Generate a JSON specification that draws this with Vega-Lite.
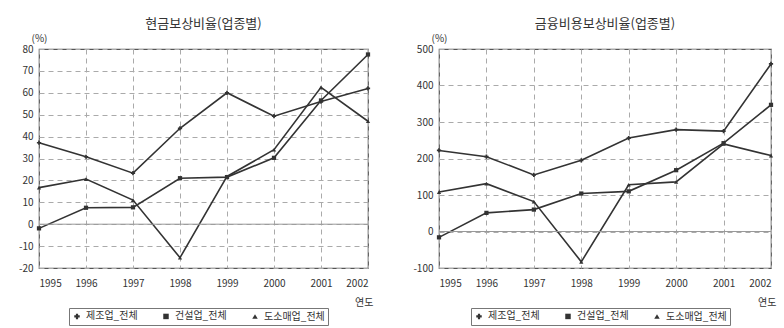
{
  "$schema": "https://vega.github.io/schema/vega-lite/v6.json",
  "background": "white",
  "padding": {"left": 4, "right": 0, "top": 17, "bottom": 0},
  "datasets": {
    "d": [
      {"chart": "cash", "series": "제조업_전체", "year": 1995, "value": 37.2},
      {"chart": "cash", "series": "제조업_전체", "year": 1996, "value": 30.8},
      {"chart": "cash", "series": "제조업_전체", "year": 1997, "value": 23.3},
      {"chart": "cash", "series": "제조업_전체", "year": 1998, "value": 43.8},
      {"chart": "cash", "series": "제조업_전체", "year": 1999, "value": 60},
      {"chart": "cash", "series": "제조업_전체", "year": 2000, "value": 49.3},
      {"chart": "cash", "series": "제조업_전체", "year": 2001, "value": 56},
      {"chart": "cash", "series": "제조업_전체", "year": 2002, "value": 62},
      {"chart": "cash", "series": "도소매업_전체", "year": 1995, "value": 16.7},
      {"chart": "cash", "series": "도소매업_전체", "year": 1996, "value": 20.6},
      {"chart": "cash", "series": "도소매업_전체", "year": 1997, "value": 11},
      {"chart": "cash", "series": "도소매업_전체", "year": 1998, "value": -15.3},
      {"chart": "cash", "series": "도소매업_전체", "year": 1999, "value": 21.8},
      {"chart": "cash", "series": "도소매업_전체", "year": 2000, "value": 34},
      {"chart": "cash", "series": "도소매업_전체", "year": 2001, "value": 62.5},
      {"chart": "cash", "series": "도소매업_전체", "year": 2002, "value": 47},
      {"chart": "cash", "series": "건설업_전체", "year": 1995, "value": -1.9},
      {"chart": "cash", "series": "건설업_전체", "year": 1996, "value": 7.5},
      {"chart": "cash", "series": "건설업_전체", "year": 1997, "value": 7.7},
      {"chart": "cash", "series": "건설업_전체", "year": 1998, "value": 21},
      {"chart": "cash", "series": "건설업_전체", "year": 1999, "value": 21.5},
      {"chart": "cash", "series": "건설업_전체", "year": 2000, "value": 30.3},
      {"chart": "cash", "series": "건설업_전체", "year": 2001, "value": 56.5},
      {"chart": "cash", "series": "건설업_전체", "year": 2002, "value": 77.5},
      {"chart": "fin", "series": "제조업_전체", "year": 1995, "value": 222},
      {"chart": "fin", "series": "제조업_전체", "year": 1996, "value": 205},
      {"chart": "fin", "series": "제조업_전체", "year": 1997, "value": 155},
      {"chart": "fin", "series": "제조업_전체", "year": 1998, "value": 195},
      {"chart": "fin", "series": "제조업_전체", "year": 1999, "value": 256},
      {"chart": "fin", "series": "제조업_전체", "year": 2000, "value": 279},
      {"chart": "fin", "series": "제조업_전체", "year": 2001, "value": 275},
      {"chart": "fin", "series": "제조업_전체", "year": 2002, "value": 459},
      {"chart": "fin", "series": "도소매업_전체", "year": 1995, "value": 108},
      {"chart": "fin", "series": "도소매업_전체", "year": 1996, "value": 131},
      {"chart": "fin", "series": "도소매업_전체", "year": 1997, "value": 82},
      {"chart": "fin", "series": "도소매업_전체", "year": 1998, "value": -83},
      {"chart": "fin", "series": "도소매업_전체", "year": 1999, "value": 128},
      {"chart": "fin", "series": "도소매업_전체", "year": 2000, "value": 136},
      {"chart": "fin", "series": "도소매업_전체", "year": 2001, "value": 240},
      {"chart": "fin", "series": "도소매업_전체", "year": 2002, "value": 208},
      {"chart": "fin", "series": "건설업_전체", "year": 1995, "value": -16},
      {"chart": "fin", "series": "건설업_전체", "year": 1996, "value": 51},
      {"chart": "fin", "series": "건설업_전체", "year": 1997, "value": 60},
      {"chart": "fin", "series": "건설업_전체", "year": 1998, "value": 104},
      {"chart": "fin", "series": "건설업_전체", "year": 1999, "value": 110},
      {"chart": "fin", "series": "건설업_전체", "year": 2000, "value": 168},
      {"chart": "fin", "series": "건설업_전체", "year": 2001, "value": 242},
      {"chart": "fin", "series": "건설업_전체", "year": 2002, "value": 347}
    ],
    "zero": [{"z": 0}]
  },
  "spacing": 30,
  "resolve": {"scale": {"y": "independent", "shape": "independent"}, "legend": {"shape": "independent"}},
  "hconcat": [
    {
      "title": {"text": "현금보상비율(업종별)", "offset": 2},
      "width": 329,
      "height": 219,
      "layer": [
        {
          "data": {"name": "d"},
          "transform": [{"filter": "datum.chart == 'cash'"}],
          "mark": {"type": "line", "color": "#333", "strokeWidth": 1.6},
          "encoding": {
            "x": {"field": "year", "type": "quantitative", "scale": {"domain": [1995, 2002], "nice": false, "zero": false},
              "axis": {"values": [1995, 1996, 1997, 1998, 1999, 2000, 2001, 2002], "labelExpr": "'' + datum.value", "title": "연도", "titleAlign": "right", "titleX": 334, "titleY": 34, "titleBaseline": "middle"}},
            "y": {"field": "value", "type": "quantitative", "scale": {"domain": [-20, 80], "nice": false, "zero": false},
              "axis": {"values": [-20, -10, 0, 10, 20, 30, 40, 50, 60, 70, 80], "labelExpr": "'' + datum.value", "labelOverlap": false, "title": "(%)", "titleAngle": 0, "titleAlign": "left", "titleBaseline": "bottom", "titleX": -8, "titleY": -6}},
            "detail": {"field": "series"}
          }
        },
        {
          "data": {"name": "zero"},
          "mark": {"type": "rule", "color": "#999", "strokeWidth": 1},
          "encoding": {"y": {"field": "z", "type": "quantitative",
              "axis": {"values": [-20, -10, 0, 10, 20, 30, 40, 50, 60, 70, 80], "labelExpr": "'' + datum.value", "labelOverlap": false, "title": "(%)", "titleAngle": 0, "titleAlign": "left", "titleBaseline": "bottom", "titleX": -8, "titleY": -6}}}
        },
        {
          "data": {"name": "d"},
          "transform": [{"filter": "datum.chart == 'cash'"}],
          "mark": {"type": "point", "filled": true, "color": "#333", "size": 18, "opacity": 1},
          "encoding": {
            "x": {"field": "year", "type": "quantitative",
              "axis": {"values": [1995, 1996, 1997, 1998, 1999, 2000, 2001, 2002], "labelExpr": "'' + datum.value", "title": "연도", "titleAlign": "right", "titleX": 334, "titleY": 34, "titleBaseline": "middle"}},
            "y": {"field": "value", "type": "quantitative",
              "axis": {"values": [-20, -10, 0, 10, 20, 30, 40, 50, 60, 70, 80], "labelExpr": "'' + datum.value", "labelOverlap": false, "title": "(%)", "titleAngle": 0, "titleAlign": "left", "titleBaseline": "bottom", "titleX": -8, "titleY": -6}},
            "shape": {"field": "series", "type": "nominal",
              "scale": {"domain": ["제조업_전체", "건설업_전체", "도소매업_전체"], "range": ["cross", "square", "triangle-up"]},
              "legend": {"orient": "none", "legendX": 30, "legendY": 259, "direction": "horizontal", "title": null}}
          }
        }
      ]
    },
    {
      "title": {"text": "금융비용보상비율(업종별)", "offset": 2},
      "width": 332,
      "height": 219,
      "layer": [
        {
          "data": {"name": "d"},
          "transform": [{"filter": "datum.chart == 'fin'"}],
          "mark": {"type": "line", "color": "#333", "strokeWidth": 1.6},
          "encoding": {
            "x": {"field": "year", "type": "quantitative", "scale": {"domain": [1995, 2002], "nice": false, "zero": false},
              "axis": {"values": [1995, 1996, 1997, 1998, 1999, 2000, 2001, 2002], "labelExpr": "'' + datum.value", "title": "연도", "titleAlign": "right", "titleX": 337, "titleY": 34, "titleBaseline": "middle"}},
            "y": {"field": "value", "type": "quantitative", "scale": {"domain": [-100, 500], "nice": false, "zero": false},
              "axis": {"values": [-100, 0, 100, 200, 300, 400, 500], "labelExpr": "'' + datum.value", "labelOverlap": false, "title": "(%)", "titleAngle": 0, "titleAlign": "left", "titleBaseline": "bottom", "titleX": -8, "titleY": -6}},
            "detail": {"field": "series"}
          }
        },
        {
          "data": {"name": "zero"},
          "mark": {"type": "rule", "color": "#999", "strokeWidth": 1},
          "encoding": {"y": {"field": "z", "type": "quantitative",
              "axis": {"values": [-100, 0, 100, 200, 300, 400, 500], "labelExpr": "'' + datum.value", "labelOverlap": false, "title": "(%)", "titleAngle": 0, "titleAlign": "left", "titleBaseline": "bottom", "titleX": -8, "titleY": -6}}}
        },
        {
          "data": {"name": "d"},
          "transform": [{"filter": "datum.chart == 'fin'"}],
          "mark": {"type": "point", "filled": true, "color": "#333", "size": 18, "opacity": 1},
          "encoding": {
            "x": {"field": "year", "type": "quantitative",
              "axis": {"values": [1995, 1996, 1997, 1998, 1999, 2000, 2001, 2002], "labelExpr": "'' + datum.value", "title": "연도", "titleAlign": "right", "titleX": 337, "titleY": 34, "titleBaseline": "middle"}},
            "y": {"field": "value", "type": "quantitative",
              "axis": {"values": [-100, 0, 100, 200, 300, 400, 500], "labelExpr": "'' + datum.value", "labelOverlap": false, "title": "(%)", "titleAngle": 0, "titleAlign": "left", "titleBaseline": "bottom", "titleX": -8, "titleY": -6}},
            "shape": {"field": "series", "type": "nominal",
              "scale": {"domain": ["제조업_전체", "건설업_전체", "도소매업_전체"], "range": ["cross", "square", "triangle-up"]},
              "legend": {"orient": "none", "legendX": 32, "legendY": 259, "direction": "horizontal", "title": null}}
          }
        }
      ]
    }
  ],
  "config": {
    "font": "Noto Sans CJK KR",
    "view": {"stroke": "#555", "strokeWidth": 1.2},
    "title": {"fontSize": 13, "fontWeight": "normal", "color": "#333", "anchor": "middle"},
    "axis": {
      "labelFontSize": 10, "labelColor": "#333", "titleFontSize": 10, "titleFontWeight": "normal", "titleColor": "#333",
      "grid": true, "gridColor": "#aaa", "gridDash": [5, 4], "gridWidth": 1,
      "ticks": false, "domain": false
    },
    "axisX": {"labelPadding": 10},
    "axisY": {"labelPadding": 6, "minExtent": 34},
    "legend": {
      "strokeColor": "#777", "padding": 3, "columnPadding": 22, "labelFontSize": 10, "labelColor": "#333",
      "symbolSize": 30, "symbolFillColor": "#333", "symbolStrokeColor": "#333", "symbolStrokeWidth": 1.2
    }
  }
}
